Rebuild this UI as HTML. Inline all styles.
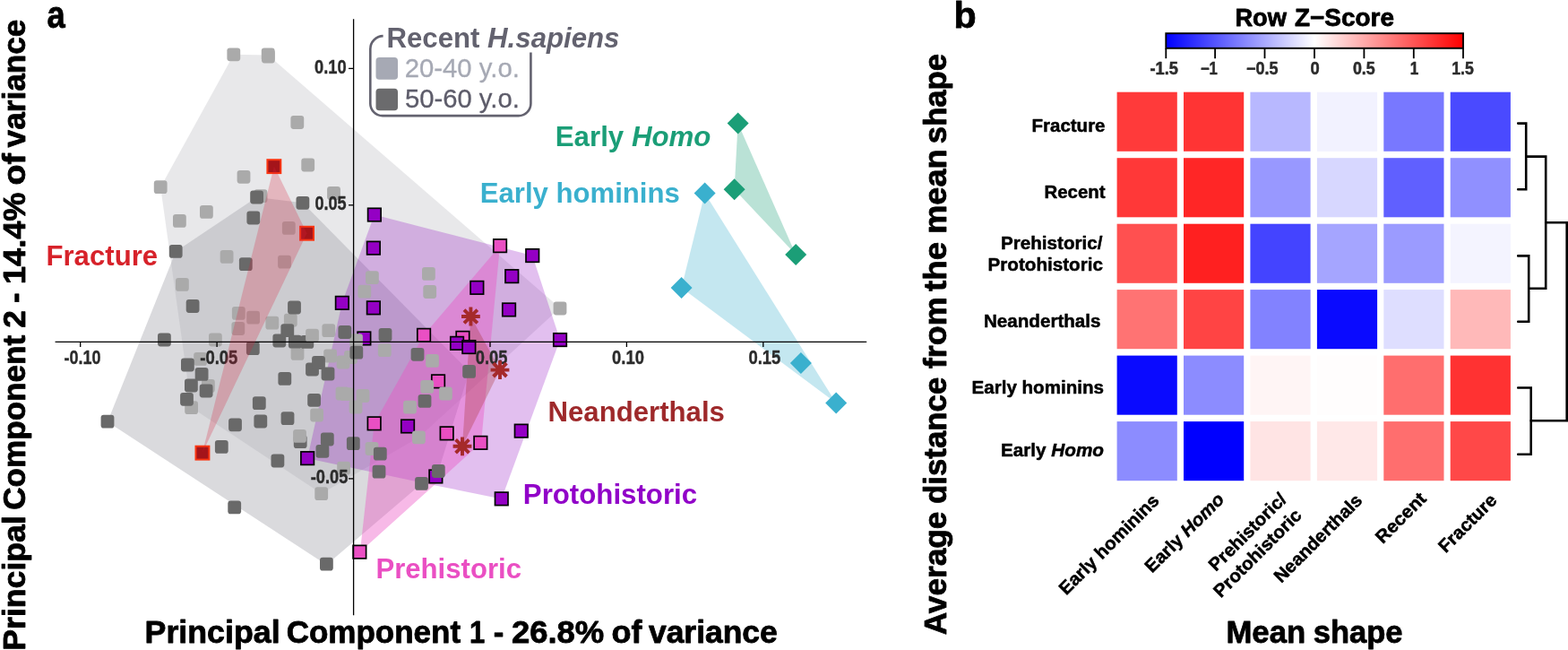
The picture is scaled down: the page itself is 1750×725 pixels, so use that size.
<!DOCTYPE html>
<html lang="en">
<head>
<meta charset="utf-8">
<title>Principal component analysis and mean-shape distance heatmap</title>
<style>
html,body{margin:0;padding:0;background:#fff;}
body{width:1750px;height:725px;overflow:hidden;font-family:"Liberation Sans", sans-serif;}
svg{display:block;}
svg text{font-family:"Liberation Sans", sans-serif;}
</style>
</head>
<body>
<svg width="1750" height="725" viewBox="0 0 1750 725">
<rect width="1750" height="725" fill="#fff"/>
<g id="panel-a">
<polygon points="260.8,60.8 299.3,61.5 625.0,343.6 467.4,487.8 358.7,550.6 213.6,454.6 179.2,208.7" fill="#a9abb3" fill-opacity="0.27"/>
<polygon points="337.9,226.3 523.6,414.4 489.3,525.5 470.5,539.4 364.4,630.0 120.0,470.5 196.2,280.4 286.6,220.0" fill="#a2a3aa" fill-opacity="0.4"/>
<polygon points="417.8,239.6 594.2,285.0 625.0,379.0 559.8,556.4 484.5,541.2 343.1,511.2 381.8,337.8" fill="#8c00be" fill-opacity="0.25"/>
<polygon points="558.0,274.2 473.0,373.8 417.7,472.4 401.9,615.6 537.0,493.8" fill="#ea4fc3" fill-opacity="0.4"/>
<polygon points="525.4,353.0 558.0,412.6 516.0,497.8" fill="#a52a2a" fill-opacity="0.3"/>
<polygon points="823.6,137.6 819.6,211.2 888.2,284.0" fill="#1b9e77" fill-opacity="0.3"/>
<polygon points="786.6,215.6 760.6,321.0 933.2,449.6" fill="#3ab0ce" fill-opacity="0.3"/>
<g id="pts-pink">
<rect x="550.8" y="266.9" width="14.5" height="14.5" fill="#ea4fc3" stroke="#000" stroke-width="1.7"/>
<rect x="465.8" y="366.6" width="14.5" height="14.5" fill="#ea4fc3" stroke="#000" stroke-width="1.7"/>
<rect x="509.2" y="369.6" width="14.5" height="14.5" fill="#ea4fc3" stroke="#000" stroke-width="1.7"/>
<rect x="481.8" y="418.1" width="14.5" height="14.5" fill="#ea4fc3" stroke="#000" stroke-width="1.7"/>
<rect x="410.4" y="465.1" width="14.5" height="14.5" fill="#ea4fc3" stroke="#000" stroke-width="1.7"/>
<rect x="491.4" y="476.1" width="14.5" height="14.5" fill="#ea4fc3" stroke="#000" stroke-width="1.7"/>
<rect x="529.1" y="486.6" width="14.5" height="14.5" fill="#ea4fc3" stroke="#000" stroke-width="1.7"/>
<rect x="394.1" y="608.4" width="14.5" height="14.5" fill="#ea4fc3" stroke="#000" stroke-width="1.7"/>
</g><g id="pts-purple">
<rect x="410.6" y="232.3" width="14.5" height="14.5" fill="#9400c4" stroke="#000" stroke-width="1.7"/>
<rect x="409.6" y="269.4" width="14.5" height="14.5" fill="#9400c4" stroke="#000" stroke-width="1.7"/>
<rect x="374.6" y="330.6" width="14.5" height="14.5" fill="#9400c4" stroke="#000" stroke-width="1.7"/>
<rect x="409.6" y="336.1" width="14.5" height="14.5" fill="#9400c4" stroke="#000" stroke-width="1.7"/>
<rect x="399.1" y="370.2" width="14.5" height="14.5" fill="#9400c4" stroke="#000" stroke-width="1.7"/>
<rect x="525.1" y="313.6" width="14.5" height="14.5" fill="#9400c4" stroke="#000" stroke-width="1.7"/>
<rect x="587.0" y="277.8" width="14.5" height="14.5" fill="#9400c4" stroke="#000" stroke-width="1.7"/>
<rect x="564.0" y="300.9" width="14.5" height="14.5" fill="#9400c4" stroke="#000" stroke-width="1.7"/>
<rect x="560.8" y="338.2" width="14.5" height="14.5" fill="#9400c4" stroke="#000" stroke-width="1.7"/>
<rect x="617.8" y="371.8" width="14.5" height="14.5" fill="#9400c4" stroke="#000" stroke-width="1.7"/>
<rect x="502.8" y="375.6" width="14.5" height="14.5" fill="#9400c4" stroke="#000" stroke-width="1.7"/>
<rect x="516.1" y="379.8" width="14.5" height="14.5" fill="#9400c4" stroke="#000" stroke-width="1.7"/>
<rect x="447.8" y="468.2" width="14.5" height="14.5" fill="#9400c4" stroke="#000" stroke-width="1.7"/>
<rect x="574.5" y="473.4" width="14.5" height="14.5" fill="#9400c4" stroke="#000" stroke-width="1.7"/>
<rect x="479.1" y="524.2" width="14.5" height="14.5" fill="#9400c4" stroke="#000" stroke-width="1.7"/>
<rect x="552.5" y="549.1" width="14.5" height="14.5" fill="#9400c4" stroke="#000" stroke-width="1.7"/>
<rect x="335.9" y="503.9" width="14.5" height="14.5" fill="#9400c4" stroke="#000" stroke-width="1.7"/>
</g><g id="pts-light">
<rect x="253.4" y="53.4" width="14.8" height="14.8" rx="3.1" fill="#aaaaaa"/>
<rect x="291.8" y="53.6" width="14.8" height="14.8" rx="3.1" fill="#aaaaaa"/>
<rect x="292.0" y="55.6" width="14.8" height="14.8" rx="3.1" fill="#aaaaaa"/>
<rect x="324.4" y="129.1" width="14.8" height="14.8" rx="3.1" fill="#aaaaaa"/>
<rect x="336.3" y="176.6" width="14.8" height="14.8" rx="3.1" fill="#aaaaaa"/>
<rect x="264.6" y="189.9" width="14.8" height="14.8" rx="3.1" fill="#aaaaaa"/>
<rect x="171.8" y="201.3" width="14.8" height="14.8" rx="3.1" fill="#aaaaaa"/>
<rect x="365.1" y="208.1" width="14.8" height="14.8" rx="3.1" fill="#aaaaaa"/>
<rect x="283.6" y="211.3" width="14.8" height="14.8" rx="3.1" fill="#aaaaaa"/>
<rect x="223.0" y="229.0" width="14.8" height="14.8" rx="3.1" fill="#aaaaaa"/>
<rect x="193.0" y="239.0" width="14.8" height="14.8" rx="3.1" fill="#aaaaaa"/>
<rect x="314.9" y="247.0" width="14.8" height="14.8" rx="3.1" fill="#aaaaaa"/>
<rect x="245.7" y="279.0" width="14.8" height="14.8" rx="3.1" fill="#aaaaaa"/>
<rect x="310.1" y="284.7" width="14.8" height="14.8" rx="3.1" fill="#aaaaaa"/>
<rect x="196.0" y="310.0" width="14.8" height="14.8" rx="3.1" fill="#aaaaaa"/>
<rect x="258.9" y="342.0" width="14.8" height="14.8" rx="3.1" fill="#aaaaaa"/>
<rect x="275.2" y="346.8" width="14.8" height="14.8" rx="3.1" fill="#aaaaaa"/>
<rect x="296.4" y="352.8" width="14.8" height="14.8" rx="3.1" fill="#aaaaaa"/>
<rect x="316.9" y="349.7" width="14.8" height="14.8" rx="3.1" fill="#aaaaaa"/>
<rect x="258.4" y="359.1" width="14.8" height="14.8" rx="3.1" fill="#aaaaaa"/>
<rect x="233.0" y="371.6" width="14.8" height="14.8" rx="3.1" fill="#aaaaaa"/>
<rect x="216.2" y="393.0" width="14.8" height="14.8" rx="3.1" fill="#aaaaaa"/>
<rect x="225.0" y="423.0" width="14.8" height="14.8" rx="3.1" fill="#aaaaaa"/>
<rect x="206.2" y="447.2" width="14.8" height="14.8" rx="3.1" fill="#aaaaaa"/>
<rect x="324.6" y="387.0" width="14.8" height="14.8" rx="3.1" fill="#aaaaaa"/>
<rect x="346.2" y="455.6" width="14.8" height="14.8" rx="3.1" fill="#aaaaaa"/>
<rect x="408.0" y="302.2" width="14.8" height="14.8" rx="3.1" fill="#aaaaaa"/>
<rect x="399.4" y="317.7" width="14.8" height="14.8" rx="3.1" fill="#aaaaaa"/>
<rect x="471.0" y="298.0" width="14.8" height="14.8" rx="3.1" fill="#aaaaaa"/>
<rect x="472.3" y="318.1" width="14.8" height="14.8" rx="3.1" fill="#aaaaaa"/>
<rect x="359.4" y="361.3" width="14.8" height="14.8" rx="3.1" fill="#aaaaaa"/>
<rect x="390.1" y="372.3" width="14.8" height="14.8" rx="3.1" fill="#aaaaaa"/>
<rect x="421.9" y="383.3" width="14.8" height="14.8" rx="3.1" fill="#aaaaaa"/>
<rect x="361.2" y="389.6" width="14.8" height="14.8" rx="3.1" fill="#aaaaaa"/>
<rect x="375.6" y="396.6" width="14.8" height="14.8" rx="3.1" fill="#aaaaaa"/>
<rect x="384.1" y="391.1" width="14.8" height="14.8" rx="3.1" fill="#aaaaaa"/>
<rect x="475.1" y="395.0" width="14.8" height="14.8" rx="3.1" fill="#aaaaaa"/>
<rect x="469.3" y="424.0" width="14.8" height="14.8" rx="3.1" fill="#aaaaaa"/>
<rect x="490.0" y="431.6" width="14.8" height="14.8" rx="3.1" fill="#aaaaaa"/>
<rect x="374.6" y="431.6" width="14.8" height="14.8" rx="3.1" fill="#aaaaaa"/>
<rect x="379.4" y="432.2" width="14.8" height="14.8" rx="3.1" fill="#aaaaaa"/>
<rect x="397.6" y="434.1" width="14.8" height="14.8" rx="3.1" fill="#aaaaaa"/>
<rect x="389.6" y="446.6" width="14.8" height="14.8" rx="3.1" fill="#aaaaaa"/>
<rect x="450.1" y="446.8" width="14.8" height="14.8" rx="3.1" fill="#aaaaaa"/>
<rect x="460.0" y="480.4" width="14.8" height="14.8" rx="3.1" fill="#aaaaaa"/>
<rect x="407.6" y="493.1" width="14.8" height="14.8" rx="3.1" fill="#aaaaaa"/>
<rect x="376.2" y="514.8" width="14.8" height="14.8" rx="3.1" fill="#aaaaaa"/>
<rect x="351.3" y="543.2" width="14.8" height="14.8" rx="3.1" fill="#aaaaaa"/>
<rect x="617.6" y="336.6" width="14.8" height="14.8" rx="3.1" fill="#aaaaaa"/>
</g><g id="pts-dark">
<rect x="279.2" y="212.6" width="14.8" height="14.8" rx="3.1" fill="#696969"/>
<rect x="330.5" y="218.9" width="14.8" height="14.8" rx="3.1" fill="#696969"/>
<rect x="275.4" y="235.6" width="14.8" height="14.8" rx="3.1" fill="#696969"/>
<rect x="188.8" y="273.0" width="14.8" height="14.8" rx="3.1" fill="#696969"/>
<rect x="266.9" y="287.2" width="14.8" height="14.8" rx="3.1" fill="#696969"/>
<rect x="207.7" y="334.1" width="14.8" height="14.8" rx="3.1" fill="#696969"/>
<rect x="321.1" y="335.6" width="14.8" height="14.8" rx="3.1" fill="#696969"/>
<rect x="176.0" y="371.6" width="14.8" height="14.8" rx="3.1" fill="#696969"/>
<rect x="202.0" y="399.6" width="14.8" height="14.8" rx="3.1" fill="#696969"/>
<rect x="217.7" y="410.0" width="14.8" height="14.8" rx="3.1" fill="#696969"/>
<rect x="206.0" y="422.6" width="14.8" height="14.8" rx="3.1" fill="#696969"/>
<rect x="222.7" y="428.6" width="14.8" height="14.8" rx="3.1" fill="#696969"/>
<rect x="201.1" y="437.9" width="14.8" height="14.8" rx="3.1" fill="#696969"/>
<rect x="112.6" y="462.7" width="14.8" height="14.8" rx="3.1" fill="#696969"/>
<rect x="274.9" y="381.3" width="14.8" height="14.8" rx="3.1" fill="#696969"/>
<rect x="310.4" y="415.0" width="14.8" height="14.8" rx="3.1" fill="#696969"/>
<rect x="281.9" y="442.2" width="14.8" height="14.8" rx="3.1" fill="#696969"/>
<rect x="255.1" y="466.4" width="14.8" height="14.8" rx="3.1" fill="#696969"/>
<rect x="283.4" y="462.6" width="14.8" height="14.8" rx="3.1" fill="#696969"/>
<rect x="313.6" y="459.2" width="14.8" height="14.8" rx="3.1" fill="#696969"/>
<rect x="239.9" y="491.0" width="14.8" height="14.8" rx="3.1" fill="#696969"/>
<rect x="302.5" y="506.6" width="14.8" height="14.8" rx="3.1" fill="#696969"/>
<rect x="327.8" y="485.2" width="14.8" height="14.8" rx="3.1" fill="#696969"/>
<rect x="304.4" y="372.6" width="14.8" height="14.8" rx="3.1" fill="#696969"/>
<rect x="313.4" y="361.3" width="14.8" height="14.8" rx="3.1" fill="#696969"/>
<rect x="321.9" y="373.8" width="14.8" height="14.8" rx="3.1" fill="#696969"/>
<rect x="335.4" y="374.0" width="14.8" height="14.8" rx="3.1" fill="#696969"/>
<rect x="341.1" y="404.6" width="14.8" height="14.8" rx="3.1" fill="#696969"/>
<rect x="343.2" y="438.9" width="14.8" height="14.8" rx="3.1" fill="#696969"/>
<rect x="357.9" y="482.6" width="14.8" height="14.8" rx="3.1" fill="#696969"/>
<rect x="352.5" y="496.0" width="14.8" height="14.8" rx="3.1" fill="#696969"/>
<rect x="386.9" y="487.2" width="14.8" height="14.8" rx="3.1" fill="#696969"/>
<rect x="416.9" y="498.7" width="14.8" height="14.8" rx="3.1" fill="#696969"/>
<rect x="415.6" y="518.8" width="14.8" height="14.8" rx="3.1" fill="#696969"/>
<rect x="254.3" y="558.5" width="14.8" height="14.8" rx="3.1" fill="#696969"/>
<rect x="357.0" y="621.7" width="14.8" height="14.8" rx="3.1" fill="#696969"/>
<rect x="463.1" y="532.0" width="14.8" height="14.8" rx="3.1" fill="#696969"/>
<rect x="481.9" y="518.1" width="14.8" height="14.8" rx="3.1" fill="#696969"/>
<rect x="377.4" y="363.1" width="14.8" height="14.8" rx="3.1" fill="#696969"/>
<rect x="422.6" y="366.1" width="14.8" height="14.8" rx="3.1" fill="#696969"/>
<rect x="390.4" y="385.7" width="14.8" height="14.8" rx="3.1" fill="#696969"/>
<rect x="458.6" y="387.9" width="14.8" height="14.8" rx="3.1" fill="#696969"/>
<rect x="348.1" y="397.1" width="14.8" height="14.8" rx="3.1" fill="#696969"/>
<rect x="358.6" y="409.6" width="14.8" height="14.8" rx="3.1" fill="#696969"/>
<rect x="516.2" y="407.0" width="14.8" height="14.8" rx="3.1" fill="#696969"/>
<rect x="466.6" y="440.0" width="14.8" height="14.8" rx="3.1" fill="#696969"/>
</g><g id="pts-light-top">
<rect x="327.1" y="479.0" width="14.8" height="14.8" rx="3.1" fill="#aaaaaa"/>
<rect x="341.1" y="366.7" width="14.8" height="14.8" rx="3.1" fill="#aaaaaa"/>
</g>
<g id="axes" stroke="#000" stroke-width="1.3" fill="none">
<line x1="61.6" y1="381.4" x2="967.2" y2="381.4"/>
<line x1="394.6" y1="21.3" x2="394.6" y2="686.3"/>
<line x1="89.7" y1="381.4" x2="89.7" y2="387.0"/>
<line x1="242.1" y1="381.4" x2="242.1" y2="387.0"/>
<line x1="547.0" y1="381.4" x2="547.0" y2="387.0"/>
<line x1="699.4" y1="381.4" x2="699.4" y2="387.0"/>
<line x1="851.8" y1="381.4" x2="851.8" y2="387.0"/>
<line x1="394.6" y1="76.4" x2="389.0" y2="76.4"/>
<line x1="394.6" y1="228.8" x2="389.0" y2="228.8"/>
<line x1="394.6" y1="533.9" x2="389.0" y2="533.9"/>
</g>
<g id="ticklabels" font-family='"Liberation Sans", sans-serif'>
<text x="71.58" y="405.90" font-size="21.8" font-weight="bold" fill="#2b2b2b" stroke="#2b2b2b" stroke-width="0.4" stroke-linejoin="round" textLength="40.99" lengthAdjust="spacingAndGlyphs">-0.10</text>
<text x="223.26" y="405.90" font-size="21.8" font-weight="bold" fill="#2b2b2b" stroke="#2b2b2b" stroke-width="0.4" stroke-linejoin="round" textLength="42.11" lengthAdjust="spacingAndGlyphs">-0.05</text>
<text x="530.77" y="405.90" font-size="21.8" font-weight="bold" fill="#2b2b2b" stroke="#2b2b2b" stroke-width="0.4" stroke-linejoin="round" textLength="35.60" lengthAdjust="spacingAndGlyphs">0.05</text>
<text x="683.07" y="405.90" font-size="21.8" font-weight="bold" fill="#2b2b2b" stroke="#2b2b2b" stroke-width="0.4" stroke-linejoin="round" textLength="35.81" lengthAdjust="spacingAndGlyphs">0.10</text>
<text x="835.47" y="405.90" font-size="21.8" font-weight="bold" fill="#2b2b2b" stroke="#2b2b2b" stroke-width="0.4" stroke-linejoin="round" textLength="35.90" lengthAdjust="spacingAndGlyphs">0.15</text>
<text x="350.97" y="81.70" font-size="21.8" font-weight="bold" fill="#2b2b2b" stroke="#2b2b2b" stroke-width="0.4" stroke-linejoin="round" textLength="35.61" lengthAdjust="spacingAndGlyphs">0.10</text>
<text x="351.38" y="234.10" font-size="21.8" font-weight="bold" fill="#2b2b2b" stroke="#2b2b2b" stroke-width="0.4" stroke-linejoin="round" textLength="35.18" lengthAdjust="spacingAndGlyphs">0.05</text>
<text x="346.77" y="539.20" font-size="21.8" font-weight="bold" fill="#2b2b2b" stroke="#2b2b2b" stroke-width="0.4" stroke-linejoin="round" textLength="41.59" lengthAdjust="spacingAndGlyphs">-0.05</text>
</g>
<rect x="298.4" y="178.2" width="14.9" height="14.9" fill="#a4141a" stroke="#fa3512" stroke-width="2.0"/>
<rect x="335.1" y="252.8" width="14.9" height="14.9" fill="#a4141a" stroke="#fa3512" stroke-width="2.0"/>
<rect x="218.5" y="497.7" width="14.9" height="14.9" fill="#a4141a" stroke="#fa3512" stroke-width="2.0"/>
<polygon points="305.9,185.6 342.5,260.2 225.9,505.1" fill="#d71e3c" fill-opacity="0.25"/>
<polygon points="823.6,125.6 835.6,137.6 823.6,149.6 811.6,137.6" fill="#1b9e77"/>
<polygon points="819.6,199.2 831.6,211.2 819.6,223.2 807.6,211.2" fill="#1b9e77"/>
<polygon points="888.2,272.0 900.2,284.0 888.2,296.0 876.2,284.0" fill="#1b9e77"/>
<polygon points="786.6,203.6 798.6,215.6 786.6,227.6 774.6,215.6" fill="#3ab0ce"/>
<polygon points="760.6,309.0 772.6,321.0 760.6,333.0 748.6,321.0" fill="#3ab0ce"/>
<polygon points="893.9,393.1 905.9,405.1 893.9,417.1 881.9,405.1" fill="#3ab0ce"/>
<polygon points="933.2,437.6 945.2,449.6 933.2,461.6 921.2,449.6" fill="#3ab0ce"/>
<path d="M515.0,353.0H535.8M525.4,342.6V363.4M518.0,345.6L532.8,360.4M518.0,360.4L532.8,345.6" stroke="#a52a2a" stroke-width="3.9" fill="none"/>
<path d="M547.6,412.6H568.4M558.0,402.2V423.0M550.6,405.2L565.4,420.0M550.6,420.0L565.4,405.2" stroke="#a52a2a" stroke-width="3.9" fill="none"/>
<path d="M505.6,497.8H526.4M516.0,487.4V508.2M508.6,490.4L523.4,505.2M508.6,505.2L523.4,490.4" stroke="#a52a2a" stroke-width="3.9" fill="none"/>
<g id="legend" font-family='"Liberation Sans", sans-serif'>
<path d="M427.6,40.1 A14.6,14.6 0 0 0 413.3,54.7 V115.5 A13.6,13.6 0 0 0 426.9,129.1 H578.8 A13.6,13.6 0 0 0 592.4,115.5 V58.6" fill="none" stroke="#63626f" stroke-width="2.6"/>
<text x="431.43" y="52.70" font-size="31.6" font-weight="bold" fill="#63626f" textLength="260.02" lengthAdjust="spacingAndGlyphs">Recent <tspan font-style="italic">H.sapiens</tspan></text>
<rect x="419.5" y="64.1" width="24.5" height="24.6" rx="3.8" fill="#a6a9b4"/>
<rect x="419.5" y="98.8" width="24.5" height="24.4" rx="3.8" fill="#6b6b6d"/>
<text x="451.66" y="86.20" font-size="29.6" font-weight="normal" fill="#a6a9b4" stroke="#a6a9b4" stroke-width="0.3" stroke-linejoin="round" textLength="128.18" lengthAdjust="spacingAndGlyphs">20-40 y.o.</text>
<text x="451.91" y="120.40" font-size="29.6" font-weight="normal" fill="#5d5c6a" stroke="#5d5c6a" stroke-width="0.3" stroke-linejoin="round" textLength="127.93" lengthAdjust="spacingAndGlyphs">50-60 y.o.</text>
</g>
<g id="labels-a" font-family='"Liberation Sans", sans-serif'>
<text x="619.72" y="162.60" font-size="31.6" font-weight="bold" fill="#1b9e77" textLength="173.76" lengthAdjust="spacingAndGlyphs">Early <tspan font-style="italic">Homo</tspan></text>
<text x="535.83" y="225.50" font-size="31.6" font-weight="bold" fill="#3ab0ce" textLength="222.98" lengthAdjust="spacingAndGlyphs">Early hominins</text>
<text x="51.43" y="295.90" font-size="31.6" font-weight="bold" fill="#d7222a" textLength="124.73" lengthAdjust="spacingAndGlyphs">Fracture</text>
<text x="611.53" y="469.70" font-size="31.6" font-weight="bold" fill="#9e292b" textLength="197.37" lengthAdjust="spacingAndGlyphs">Neanderthals</text>
<text x="583.82" y="562.40" font-size="31.6" font-weight="bold" fill="#9100c8" textLength="194.27" lengthAdjust="spacingAndGlyphs">Protohistoric</text>
<text x="419.43" y="645.10" font-size="31.6" font-weight="bold" fill="#ea4fc3" textLength="162.52" lengthAdjust="spacingAndGlyphs">Prehistoric</text>
</g>
<g id="titles-a" font-family='"Liberation Sans", sans-serif'>
<text x="161.56" y="717.40" font-size="35.0" font-weight="bold" fill="#000" stroke="#000" stroke-width="0.8" stroke-linejoin="round" textLength="151.07" lengthAdjust="spacingAndGlyphs">Principal</text>
<text x="319.70" y="717.40" font-size="35.0" font-weight="bold" fill="#000" stroke="#000" stroke-width="0.8" stroke-linejoin="round" textLength="194.37" lengthAdjust="spacingAndGlyphs">Component</text>
<text x="524.06" y="717.40" font-size="35.0" font-weight="bold" fill="#000" stroke="#000" stroke-width="0.8" stroke-linejoin="round" textLength="17.16" lengthAdjust="spacingAndGlyphs">1</text>
<text x="550.71" y="717.40" font-size="35.0" font-weight="bold" fill="#000" stroke="#000" stroke-width="0.8" stroke-linejoin="round" textLength="11.60" lengthAdjust="spacingAndGlyphs">-</text>
<text x="570.92" y="717.40" font-size="35.0" font-weight="bold" fill="#000" stroke="#000" stroke-width="0.8" stroke-linejoin="round" textLength="103.30" lengthAdjust="spacingAndGlyphs">26.8%</text>
<text x="682.47" y="717.40" font-size="35.0" font-weight="bold" fill="#000" stroke="#000" stroke-width="0.8" stroke-linejoin="round" textLength="34.06" lengthAdjust="spacingAndGlyphs">of</text>
<text x="723.95" y="717.40" font-size="35.0" font-weight="bold" fill="#000" stroke="#000" stroke-width="0.8" stroke-linejoin="round" textLength="143.87" lengthAdjust="spacingAndGlyphs">variance</text>
<text transform="translate(27.50,725.74) rotate(-90)" font-size="35.0" font-weight="bold" fill="#000" stroke="#000" stroke-width="0.8" stroke-linejoin="round" textLength="150.55" lengthAdjust="spacingAndGlyphs">Principal</text>
<text transform="translate(27.50,568.70) rotate(-90)" font-size="35.0" font-weight="bold" fill="#000" stroke="#000" stroke-width="0.8" stroke-linejoin="round" textLength="194.77" lengthAdjust="spacingAndGlyphs">Component</text>
<text transform="translate(27.50,365.75) rotate(-90)" font-size="35.0" font-weight="bold" fill="#000" stroke="#000" stroke-width="0.8" stroke-linejoin="round" textLength="19.52" lengthAdjust="spacingAndGlyphs">2</text>
<text transform="translate(27.50,337.89) rotate(-90)" font-size="35.0" font-weight="bold" fill="#000" stroke="#000" stroke-width="0.8" stroke-linejoin="round" textLength="11.60" lengthAdjust="spacingAndGlyphs">-</text>
<text transform="translate(27.50,317.01) rotate(-90)" font-size="35.0" font-weight="bold" fill="#000" stroke="#000" stroke-width="0.8" stroke-linejoin="round" textLength="102.52" lengthAdjust="spacingAndGlyphs">14.4%</text>
<text transform="translate(27.50,206.57) rotate(-90)" font-size="35.0" font-weight="bold" fill="#000" stroke="#000" stroke-width="0.8" stroke-linejoin="round" textLength="35.49" lengthAdjust="spacingAndGlyphs">of</text>
<text transform="translate(27.50,164.45) rotate(-90)" font-size="35.0" font-weight="bold" fill="#000" stroke="#000" stroke-width="0.8" stroke-linejoin="round" textLength="142.87" lengthAdjust="spacingAndGlyphs">variance</text>
<text x="52.56" y="31.10" font-size="42.5" font-weight="bold" fill="#000" stroke="#000" stroke-width="0.8" stroke-linejoin="round" textLength="20.22" lengthAdjust="spacingAndGlyphs">a</text>
</g>
</g>
<g id="panel-b">
<g id="titles-b" font-family='"Liberation Sans", sans-serif'>
<text x="1064.47" y="30.80" font-size="41.5" font-weight="bold" fill="#000" stroke="#000" stroke-width="0.8" stroke-linejoin="round" textLength="25.18" lengthAdjust="spacingAndGlyphs">b</text>
<text x="1378.42" y="29.10" font-size="27.7" font-weight="bold" fill="#000" stroke="#000" stroke-width="0.8" stroke-linejoin="round" textLength="57.54" lengthAdjust="spacingAndGlyphs">Row</text>
<text x="1445.00" y="29.10" font-size="27.7" font-weight="bold" fill="#000" stroke="#000" stroke-width="0.8" stroke-linejoin="round" textLength="110.96" lengthAdjust="spacingAndGlyphs">Z−Score</text>
<text x="1368.42" y="717.00" font-size="35.0" font-weight="bold" fill="#000" stroke="#000" stroke-width="0.8" stroke-linejoin="round" textLength="88.79" lengthAdjust="spacingAndGlyphs">Mean</text>
<text x="1465.76" y="717.00" font-size="35.0" font-weight="bold" fill="#000" stroke="#000" stroke-width="0.8" stroke-linejoin="round" textLength="99.73" lengthAdjust="spacingAndGlyphs">shape</text>
<text transform="translate(1056.20,708.30) rotate(-90)" font-size="35.0" font-weight="bold" fill="#000" stroke="#000" stroke-width="0.8" stroke-linejoin="round" textLength="137.75" lengthAdjust="spacingAndGlyphs">Average</text>
<text transform="translate(1056.20,561.99) rotate(-90)" font-size="35.0" font-weight="bold" fill="#000" stroke="#000" stroke-width="0.8" stroke-linejoin="round" textLength="141.24" lengthAdjust="spacingAndGlyphs">distance</text>
<text transform="translate(1056.20,411.26) rotate(-90)" font-size="35.0" font-weight="bold" fill="#000" stroke="#000" stroke-width="0.8" stroke-linejoin="round" textLength="79.89" lengthAdjust="spacingAndGlyphs">from</text>
<text transform="translate(1056.20,325.00) rotate(-90)" font-size="35.0" font-weight="bold" fill="#000" stroke="#000" stroke-width="0.8" stroke-linejoin="round" textLength="55.09" lengthAdjust="spacingAndGlyphs">the</text>
<text transform="translate(1056.20,260.76) rotate(-90)" font-size="35.0" font-weight="bold" fill="#000" stroke="#000" stroke-width="0.8" stroke-linejoin="round" textLength="94.41" lengthAdjust="spacingAndGlyphs">mean</text>
<text transform="translate(1056.20,160.14) rotate(-90)" font-size="35.0" font-weight="bold" fill="#000" stroke="#000" stroke-width="0.8" stroke-linejoin="round" textLength="100.24" lengthAdjust="spacingAndGlyphs">shape</text>
</g>
<defs><linearGradient id="bwr" x1="0" x2="1" y1="0" y2="0"><stop offset="0" stop-color="#0000ff"/><stop offset="0.5" stop-color="#ffffff"/><stop offset="1" stop-color="#ff0000"/></linearGradient></defs>
<rect x="1301.3" y="37.2" width="331.7" height="16.6" fill="url(#bwr)" stroke="#000" stroke-width="1.9"/>
<g stroke="#000" stroke-width="1.8">
<line x1="1301.3" y1="54" x2="1301.3" y2="65.2"/>
<line x1="1356.1" y1="54" x2="1356.1" y2="65.2"/>
<line x1="1411.5" y1="54" x2="1411.5" y2="65.2"/>
<line x1="1467.0" y1="54" x2="1467.0" y2="65.2"/>
<line x1="1522.4" y1="54" x2="1522.4" y2="65.2"/>
<line x1="1577.8" y1="54" x2="1577.8" y2="65.2"/>
<line x1="1633.0" y1="54" x2="1633.0" y2="65.2"/>
</g>
<g font-family='"Liberation Sans", sans-serif' font-weight="bold" font-size="19.3" fill="#2b2b2b" stroke="#2b2b2b" stroke-width="0.5" stroke-linejoin="round" text-anchor="middle">
<text x="1299.2" y="83.4" textLength="31.5" lengthAdjust="spacingAndGlyphs">-1.5</text>
<text x="1349.4" y="83.4" textLength="19.0" lengthAdjust="spacingAndGlyphs">−1</text>
<text x="1408.8" y="83.4" textLength="35.5" lengthAdjust="spacingAndGlyphs">−0.5</text>
<text x="1467.5" y="83.4" textLength="10.2" lengthAdjust="spacingAndGlyphs">0</text>
<text x="1522.3" y="83.4" textLength="24.8" lengthAdjust="spacingAndGlyphs">0.5</text>
<text x="1578.5" y="83.4" textLength="9.5" lengthAdjust="spacingAndGlyphs">1</text>
<text x="1632.5" y="83.4" textLength="24.6" lengthAdjust="spacingAndGlyphs">1.5</text>
</g>
<g id="heat">
<rect x="1246.6" y="102.7" width="67.2" height="66.1" fill="#ff3a3a"/>
<rect x="1321.0" y="102.7" width="67.2" height="66.1" fill="#ff3434"/>
<rect x="1395.4" y="102.7" width="67.2" height="66.1" fill="#b8b8ff"/>
<rect x="1469.9" y="102.7" width="67.2" height="66.1" fill="#f2f2ff"/>
<rect x="1544.3" y="102.7" width="67.2" height="66.1" fill="#7878ff"/>
<rect x="1618.7" y="102.7" width="67.2" height="66.1" fill="#4a4aff"/>
<rect x="1246.6" y="176.2" width="67.2" height="66.1" fill="#ff3838"/>
<rect x="1321.0" y="176.2" width="67.2" height="66.1" fill="#ff2626"/>
<rect x="1395.4" y="176.2" width="67.2" height="66.1" fill="#9898ff"/>
<rect x="1469.9" y="176.2" width="67.2" height="66.1" fill="#d7d7ff"/>
<rect x="1544.3" y="176.2" width="67.2" height="66.1" fill="#6060ff"/>
<rect x="1618.7" y="176.2" width="67.2" height="66.1" fill="#9090ff"/>
<rect x="1246.6" y="249.7" width="67.2" height="66.1" fill="#ff5050"/>
<rect x="1321.0" y="249.7" width="67.2" height="66.1" fill="#ff2020"/>
<rect x="1395.4" y="249.7" width="67.2" height="66.1" fill="#4444ff"/>
<rect x="1469.9" y="249.7" width="67.2" height="66.1" fill="#a5a5ff"/>
<rect x="1544.3" y="249.7" width="67.2" height="66.1" fill="#9b9bff"/>
<rect x="1618.7" y="249.7" width="67.2" height="66.1" fill="#f4f4ff"/>
<rect x="1246.6" y="323.1" width="67.2" height="66.1" fill="#ff7373"/>
<rect x="1321.0" y="323.1" width="67.2" height="66.1" fill="#ff4444"/>
<rect x="1395.4" y="323.1" width="67.2" height="66.1" fill="#8282ff"/>
<rect x="1469.9" y="323.1" width="67.2" height="66.1" fill="#0a0aff"/>
<rect x="1544.3" y="323.1" width="67.2" height="66.1" fill="#dedeff"/>
<rect x="1618.7" y="323.1" width="67.2" height="66.1" fill="#ffb9b9"/>
<rect x="1246.6" y="396.6" width="67.2" height="66.1" fill="#0a0aff"/>
<rect x="1321.0" y="396.6" width="67.2" height="66.1" fill="#8c8cff"/>
<rect x="1395.4" y="396.6" width="67.2" height="66.1" fill="#fff5f5"/>
<rect x="1469.9" y="396.6" width="67.2" height="66.1" fill="#fffdfd"/>
<rect x="1544.3" y="396.6" width="67.2" height="66.1" fill="#ff6e6e"/>
<rect x="1618.7" y="396.6" width="67.2" height="66.1" fill="#ff3232"/>
<rect x="1246.6" y="470.1" width="67.2" height="66.1" fill="#8c8cff"/>
<rect x="1321.0" y="470.1" width="67.2" height="66.1" fill="#0000ff"/>
<rect x="1395.4" y="470.1" width="67.2" height="66.1" fill="#ffe4e4"/>
<rect x="1469.9" y="470.1" width="67.2" height="66.1" fill="#ffe8e8"/>
<rect x="1544.3" y="470.1" width="67.2" height="66.1" fill="#ff6e6e"/>
<rect x="1618.7" y="470.1" width="67.2" height="66.1" fill="#ff4848"/>
</g>
<g font-family='"Liberation Sans", sans-serif' font-weight="bold" font-size="20.3" fill="#000" stroke="#000" stroke-width="0.5" stroke-linejoin="round" text-anchor="end">
<text x="1233.5" y="146.6" textLength="82.0" lengthAdjust="spacingAndGlyphs">Fracture</text>
<text x="1233.5" y="220.5" textLength="68.0" lengthAdjust="spacingAndGlyphs">Recent</text>
<text x="1230.5" y="277.9" textLength="113.5" lengthAdjust="spacingAndGlyphs">Prehistoric/</text>
<text x="1231.0" y="302.3" textLength="128.5" lengthAdjust="spacingAndGlyphs">Protohistoric</text>
<text x="1228.5" y="365.4" textLength="130.5" lengthAdjust="spacingAndGlyphs">Neanderthals</text>
<text x="1232.0" y="438.6" textLength="147.5" lengthAdjust="spacingAndGlyphs">Early hominins</text>
<text x="1232.0" y="509.0" textLength="115" lengthAdjust="spacingAndGlyphs">Early <tspan font-style="italic">Homo</tspan></text>
<text transform="translate(1294.9,559.6) rotate(-45)" textLength="148.5" lengthAdjust="spacingAndGlyphs">Early hominins</text>
<text transform="translate(1367.5,558.2) rotate(-45)" textLength="115.5" lengthAdjust="spacingAndGlyphs">Early <tspan font-style="italic">Homo</tspan></text>
<text transform="translate(1437.0,558.2) rotate(-45)" textLength="113.0" lengthAdjust="spacingAndGlyphs">Prehistoric/</text>
<text transform="translate(1454.0,576.0) rotate(-45)" textLength="129.5" lengthAdjust="spacingAndGlyphs">Protohistoric</text>
<text transform="translate(1521.5,559.5) rotate(-45)" textLength="129.5" lengthAdjust="spacingAndGlyphs">Neanderthals</text>
<text transform="translate(1593.0,557.5) rotate(-45)" textLength="70.5" lengthAdjust="spacingAndGlyphs">Recent</text>
<text transform="translate(1671.8,559.2) rotate(-45)" textLength="82.5" lengthAdjust="spacingAndGlyphs">Fracture</text>
</g>
<g fill="none" stroke="#000" stroke-width="2.6" stroke-linejoin="miter" stroke-linecap="round">
<path d="M1694.2,137.6 H1703.2 V211.2 H1694.2"/>
<path d="M1694.2,285.4 H1706.2 V358.7 H1694.2"/>
<path d="M1694.2,432.5 H1708.7 V506.7 H1694.2"/>
<path d="M1703.2,174.6 H1725.2 V321.7 H1706.2"/>
<path d="M1725.2,248.3 H1748.7 V469.3 H1708.7"/>
</g>
</g>
</svg>
</body>
</html>
